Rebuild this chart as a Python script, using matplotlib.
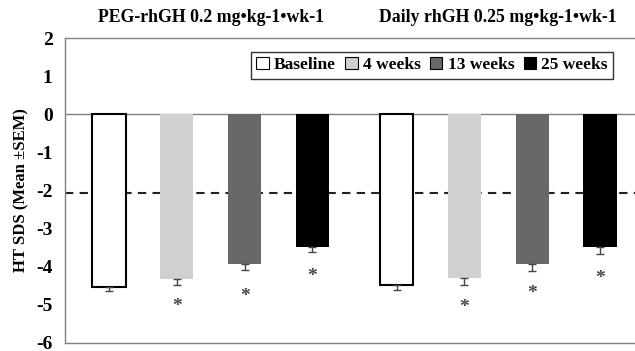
import numpy as np
import matplotlib.pyplot as plt

# --- data ---
groups = ['PEG-rhGH 0.2 mg•kg-1•wk-1', 'Daily rhGH 0.25 mg•kg-1•wk-1']
timepoints = ['Baseline', '4 weeks', '13 weeks', '25 weeks']
peg_mean = [-4.53, -4.32, -3.93, -3.47]
peg_sem = [0.10, 0.15, 0.16, 0.13]
daily_mean = [-4.49, -4.29, -3.94, -3.49]
daily_sem = [0.13, 0.18, 0.16, 0.17]
peg_star = [None, -5.05, -4.78, -4.26]
daily_star = [None, -5.07, -4.70, -4.31]
reference_line = -2.07

colors = ['white', '#d0d0d0', '#686868', '#000000']

plt.rcParams['font.family'] = ['Liberation Serif', 'DejaVu Serif']
plt.rcParams['font.weight'] = 'bold'
plt.rcParams['axes.unicode_minus'] = False

fig = plt.figure(figsize=(6.35, 3.51), dpi=100)
ax = fig.add_axes([0.1024, 0.0228, 0.8976, 0.8689])

width = 0.49
group_offset = [0.0, 4.24]
all_means = [peg_mean, daily_mean]
all_sems = [peg_sem, daily_sem]
all_stars = [peg_star, daily_star]

for g in range(2):
    for i, label in enumerate(timepoints):
        x = group_offset[g] + i
        m = all_means[g][i]
        s = all_sems[g][i]
        ax.bar(x, m, width=width, color=colors[i],
               edgecolor='black' if i == 0 else colors[i],
               linewidth=1.5 if i == 0 else 0,
               label=label if g == 0 else None, zorder=2)
        ax.errorbar(x, m, yerr=[[s], [0]], fmt='none', ecolor='#444444',
                    elinewidth=1.0, capsize=3, capthick=1.0, zorder=3)
        if all_stars[g][i] is not None:
            ax.text(x, all_stars[g][i], '*', ha='center', va='center',
                    fontsize=14, color='#444444')

ax.axhline(reference_line, color='#222222', linestyle=(0, (4, 3)),
           linewidth=1.5, zorder=1)
ax.axhline(0, color='#808080', linewidth=1.0, zorder=1)

ax.set_xlim(-0.647, 7.755)
ax.set_ylim(-6, 2)
ax.set_yticks(np.arange(-6, 3, 1))
ax.set_xticks([])
ax.tick_params(axis='y', length=0, labelsize=14, pad=9)
for lab in ax.get_yticklabels():
    lab.set_fontweight('bold')

ax.spines['right'].set_visible(False)
for side in ['left', 'top', 'bottom']:
    ax.spines[side].set_color('#808080')
    ax.spines[side].set_linewidth(1.0)

ax.set_ylabel('HT SDS (Mean \u00b1SEM)', fontsize=12, fontweight='bold', labelpad=5)

# group titles
for g, title in enumerate(groups):
    xc = group_offset[g] + 1.5
    ax.text(xc, 2.55, title, ha='center', va='center', fontsize=12.8,
            fontweight='bold', clip_on=False)

leg = ax.legend(loc='upper right', bbox_to_anchor=(0.961, 0.954), ncol=4,
                frameon=True, fancybox=False, edgecolor='black',
                prop={'weight': 'bold', 'size': 12.5},
                handlelength=0.7, handleheight=0.7, handletextpad=0.3,
                columnspacing=0.55, borderpad=0.3, borderaxespad=0)
leg.get_frame().set_linewidth(1.0)
for h in leg.legend_handles:
    h.set_edgecolor('black')
    h.set_linewidth(0.8)

fig.savefig('out.png', dpi=100)
